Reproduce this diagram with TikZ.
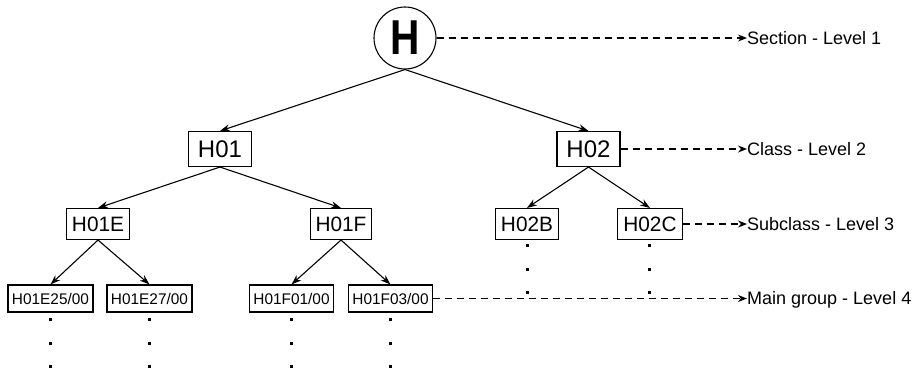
\documentclass[tikz,border=0pt]{standalone}
\usepackage{fontspec}
\setmainfont{Liberation Sans}
\usepackage{graphicx}
\usetikzlibrary{arrows.meta}
\begin{document}
\begin{tikzpicture}[x=1pt,y=-1pt,
  lvtwo/.style={draw, line width=1.1pt, inner xsep=9.5pt, inner ysep=0pt, minimum height=35pt, font=\fontsize{24}{24}\selectfont},
  lvthree/.style={draw, line width=1.1pt, inner xsep=5.5pt, inner ysep=0pt, minimum height=31pt, font=\fontsize{20.8}{21}\selectfont},
  lvfour/.style={draw, line width=1.1pt, inner xsep=4pt, inner ysep=0pt, minimum height=27pt, font=\fontsize{15.4}{16}\selectfont},
  treearrow/.style={line width=1.1pt, -{Stealth[length=10pt,width=7pt]}},
  levarrow/.style={line width=1.1pt, dash pattern=on 7pt off 5pt, -{Stealth[length=9pt,width=7pt]}},
  lab/.style={anchor=base west, inner sep=0pt, font=\fontsize{18}{18}\selectfont},
  dotmark/.style={fill, rectangle, minimum size=3pt, inner sep=0pt}
]
\useasboundingbox (0,0) rectangle (919,370);

% level 1
\node[circle, draw, line width=1.1pt, minimum size=62pt, inner sep=0pt] (H) at (405,38)
  {\fontsize{49}{49}\selectfont\bfseries\scalebox{0.83}[1]{H}};

% level 2
\node[lvtwo] (H01) at (220,149) {H01};
\node[lvtwo] (H02) at (588.5,149) {H02};

% level 3
\node[lvthree] (H01E) at (98,224) {H01E};
\node[lvthree] (H01F) at (341,224) {H01F};
\node[lvthree] (H02B) at (527,224) {H02B};
\node[lvthree] (H02C) at (650,224) {H02C};

% level 4
\node[lvfour] (E25) at (50.5,298.5) {H01E25/00};
\node[lvfour] (E27) at (149.5,298.5) {H01E27/00};
\node[lvfour] (F01) at (291.5,298.5) {H01F01/00};
\node[lvfour] (F03) at (390.5,298.5) {H01F03/00};

% tree arrows
\draw[treearrow] (H.south) -- (H01.north);
\draw[treearrow] (H.south) -- (H02.north);
\draw[treearrow] (H01.south) -- (H01E.north);
\draw[treearrow] (H01.south) -- (H01F.north);
\draw[treearrow] (H02.south) -- (H02B.north);
\draw[treearrow] (H02.south) -- (H02C.north);
\draw[treearrow] (H01E.south) -- (E25.north);
\draw[treearrow] (H01E.south) -- (E27.north);
\draw[treearrow] (H01F.south) -- (F01.north);
\draw[treearrow] (H01F.south) -- (F03.north);

% level labels
\node[lab] (lab1) at (747,44.5) {Section - Level 1};
\node[lab] (lab2) at (747,155.5) {Class - Level 2};
\node[lab] (lab3) at (747,230.5) {Subclass - Level 3};
\node[lab] (lab4) at (747,304.5) {Main group - Level 4};

\draw[levarrow] (H.east) -- (H.east -| lab1.west);
\draw[levarrow] (H02.east) -- (H02.east -| lab2.west);
\draw[levarrow] (H02C.east) -- (H02C.east -| lab3.west);
\draw[levarrow] (F03.east) -- (F03.east -| lab4.west);

% continuation dots
\foreach \nm/\xx in {a/50.5, b/149.5, c/291.5, d/390.5} {
  \node[dotmark] (dot\nm1) at (\xx,319) {};
  \node[dotmark] (dot\nm2) at (\xx,343) {};
  \node[dotmark] (dot\nm3) at (\xx,366) {};
}
\foreach \nm/\xx in {e/527, f/649.5} {
  \node[dotmark] (dot\nm1) at (\xx,245) {};
  \node[dotmark] (dot\nm2) at (\xx,269) {};
  \node[dotmark] (dot\nm3) at (\xx,292) {};
}
\end{tikzpicture}
\end{document}
